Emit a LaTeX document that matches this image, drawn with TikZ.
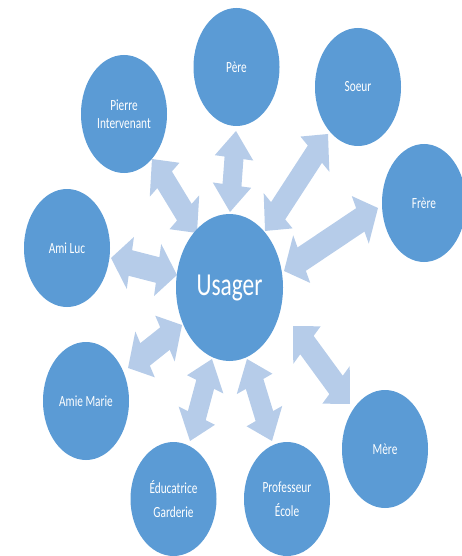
\documentclass[tikz,border=0pt]{standalone}
\usepackage{fontspec}
\setmainfont{Carlito}
\usepackage{graphicx}
\usetikzlibrary{shapes.geometric,calc}
\definecolor{circ}{HTML}{5B9BD5}
\definecolor{arr}{HTML}{B6CCE9}
\newcommand\sq[1]{\scalebox{0.73}[1]{#1}}
% double-headed block arrow between two named coordinates
\newcommand\blockarrow[2]{%
  \fill[arr] let \p1=(#1), \p2=(#2),
    \n1={atan2(\y2-\y1,(\x2-\x1)/0.73)},
    \n2={veclen((\x2-\x1)/0.73,\y2-\y1)} in
    [shift={(\p1)}, xscale=0.73, rotate=\n1]
    (0,0) -- (27,26.5) -- (27,13) -- ({\n2-27},13) -- ({\n2-27},26.5) -- (\n2,0)
    -- ({\n2-27},-26.5) -- ({\n2-27},-13) -- (27,-13) -- (27,-26.5) -- cycle;
}
\tikzset{
  bub/.style={ellipse, fill=circ, text=white, inner sep=0pt,
    minimum width=86pt, minimum height=118pt,
    font=\fontsize{15.5}{17.5}\selectfont, align=center},
  hub/.style={bub, minimum width=107pt, minimum height=147pt,
    font=\fontsize{32}{38}\selectfont},
}
\begin{document}
\begin{tikzpicture}[x=1pt,y=-1pt]
\useasboundingbox (0,0) rectangle (462,556);
\clip (0,0) rectangle (462,556);
% arrow end points
\coordinate (pe1) at (236,131);  \coordinate (pe2) at (230,212);
\coordinate (pi1) at (152,159);  \coordinate (pi2) at (197,233);
\coordinate (so1) at (328,134);  \coordinate (so2) at (265,231);
\coordinate (fr1) at (378,208);  \coordinate (fr2) at (284,271);
\coordinate (al1) at (111,258);  \coordinate (al2) at (177,275);
\coordinate (am1) at (182,325);  \coordinate (am2) at (128,368);
\coordinate (ed1) at (212,359);  \coordinate (ed2) at (190,441);
\coordinate (pr1) at (247,359);  \coordinate (pr2) at (272,441);
\coordinate (me1) at (293,326);  \coordinate (me2) at (350,404);
\blockarrow{pe1}{pe2}
\blockarrow{pi1}{pi2}
\blockarrow{so1}{so2}
\blockarrow{fr1}{fr2}
\blockarrow{al1}{al2}
\blockarrow{am1}{am2}
\blockarrow{ed1}{ed2}
\blockarrow{pr1}{pr2}
\blockarrow{me1}{me2}
% nodes
\node[hub] (usager) at (229.5,287.5) {\sq{Usager}};
\node[bub] (pere) at (236.5,67) {\sq{Père}};
\node[bub] (pierre) at (124,114) {\sq{Pierre}\\\sq{Intervenant}};
\node[bub] (soeur) at (358,87) {\sq{Soeur}};
\node[bub, minimum width=84pt] (frere) at (424,203) {\sq{Frère}};
\node[bub] (amiluc) at (67,248) {\sq{Ami Luc}};
\node[bub] (amiemarie) at (86,401) {\sq{Amie Marie}};
\node[bub, minimum height=114pt] (educ) at (173.5,499) {\sq{Éducatrice}\\[7pt]\sq{Garderie}};
\node[bub, minimum height=114pt] (prof) at (287,499) {\sq{Professeur}\\[7pt]\sq{École}};
\node[bub] (mere) at (385,449) {\sq{Mère}};
\end{tikzpicture}
\end{document}
